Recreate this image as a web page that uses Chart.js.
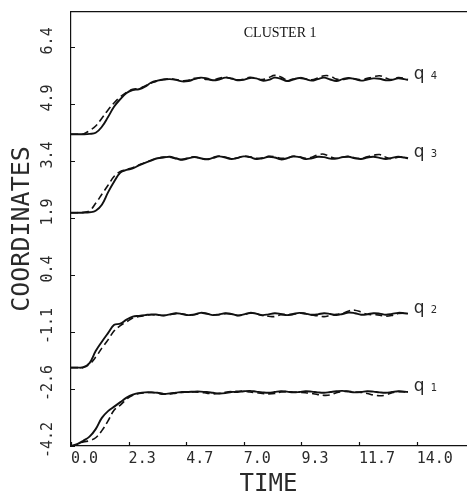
<!DOCTYPE html>
<html>
<head>
<meta charset="utf-8">
<script src="https://cdn.jsdelivr.net/npm/chart.js@4.4.0/dist/chart.umd.min.js"></script>
<style>
  html, body { margin: 0; padding: 0; background: #fff; }
  #wrap { width: 467px; height: 494px; }
</style>
</head>
<body>
<div id="wrap"><canvas id="myChart" width="467" height="494"></canvas></div>
<script>
// time samples (x values)
const times = [
  0, 0.25, 0.5, 0.75, 1, 1.25, 1.5, 1.75,
  2, 2.25, 2.5, 2.75, 3, 3.25, 3.5, 3.75,
  4, 4.25, 4.5, 4.75, 5, 5.25, 5.5, 5.75,
  6, 6.25, 6.5, 6.75, 7, 7.25, 7.5, 7.75,
  8, 8.25, 8.5, 8.75, 9, 9.25, 9.5, 9.75,
  10, 10.25, 10.5, 10.75, 11, 11.25, 11.5, 11.75,
  12, 12.25, 12.5, 12.75, 13, 13.25, 13.5, 13.65
];

const q4Solid = [
  4.11, 4.11, 4.11, 4.12, 4.15, 4.31, 4.57, 4.85,
  5.05, 5.21, 5.29, 5.31, 5.38, 5.49, 5.54, 5.57,
  5.58, 5.56, 5.52, 5.53, 5.58, 5.62, 5.60, 5.55,
  5.57, 5.62, 5.60, 5.55, 5.56, 5.61, 5.60, 5.54,
  5.56, 5.62, 5.59, 5.53, 5.57, 5.61, 5.58, 5.54,
  5.58, 5.62, 5.57, 5.53, 5.58, 5.61, 5.58, 5.54,
  5.57, 5.60, 5.59, 5.55, 5.56, 5.60, 5.58, 5.56
];
const q4Dashed = [
  4.11, 4.11, 4.12, 4.21, 4.33, 4.54, 4.76, 4.95,
  5.11, 5.23, 5.31, 5.33, 5.40, 5.48, 5.53, 5.57,
  5.59, 5.57, 5.54, 5.55, 5.60, 5.61, 5.57, 5.56,
  5.60, 5.63, 5.59, 5.56, 5.58, 5.63, 5.60, 5.57,
  5.62, 5.68, 5.64, 5.56, 5.58, 5.62, 5.59, 5.56,
  5.61, 5.67, 5.66, 5.58, 5.57, 5.60, 5.59, 5.56,
  5.60, 5.64, 5.67, 5.61, 5.57, 5.62, 5.60, 5.57
];
const q3Solid = [
  2.02, 2.02, 2.02, 2.03, 2.07, 2.23, 2.56, 2.85,
  3.09, 3.16, 3.20, 3.28, 3.35, 3.41, 3.47, 3.49,
  3.51, 3.47, 3.43, 3.47, 3.50, 3.47, 3.44, 3.48,
  3.52, 3.49, 3.45, 3.48, 3.52, 3.50, 3.45, 3.47,
  3.51, 3.49, 3.44, 3.47, 3.52, 3.50, 3.45, 3.47,
  3.51, 3.50, 3.46, 3.46, 3.50, 3.51, 3.47, 3.45,
  3.49, 3.51, 3.48, 3.45, 3.48, 3.51, 3.49, 3.47
];
const q3Dashed = [
  2.02, 2.02, 2.03, 2.07, 2.27, 2.51, 2.75, 2.99,
  3.12, 3.17, 3.22, 3.29, 3.36, 3.42, 3.47, 3.50,
  3.50, 3.46, 3.44, 3.48, 3.51, 3.47, 3.45, 3.49,
  3.53, 3.50, 3.46, 3.48, 3.53, 3.51, 3.47, 3.48,
  3.52, 3.51, 3.47, 3.48, 3.52, 3.51, 3.47, 3.50,
  3.56, 3.58, 3.51, 3.47, 3.50, 3.52, 3.48, 3.47,
  3.51, 3.55, 3.57, 3.50, 3.46, 3.50, 3.50, 3.47
];
const q2Solid = [
  -2.11, -2.11, -2.10, -1.99, -1.67, -1.42, -1.19, -0.97,
  -0.94, -0.83, -0.75, -0.73, -0.71, -0.69, -0.70, -0.72,
  -0.69, -0.66, -0.68, -0.71, -0.69, -0.65, -0.67, -0.71,
  -0.69, -0.66, -0.68, -0.72, -0.69, -0.65, -0.67, -0.71,
  -0.69, -0.66, -0.68, -0.71, -0.68, -0.65, -0.67, -0.70,
  -0.69, -0.66, -0.68, -0.71, -0.68, -0.64, -0.66, -0.70,
  -0.69, -0.66, -0.67, -0.70, -0.68, -0.65, -0.66, -0.67
];
const q2Dashed = [
  -2.11, -2.11, -2.11, -2.02, -1.83, -1.59, -1.37, -1.13,
  -0.99, -0.89, -0.79, -0.75, -0.72, -0.70, -0.71, -0.72,
  -0.70, -0.67, -0.68, -0.71, -0.70, -0.66, -0.67, -0.70,
  -0.70, -0.67, -0.68, -0.72, -0.70, -0.66, -0.68, -0.72,
  -0.74, -0.75, -0.70, -0.70, -0.69, -0.66, -0.67, -0.71,
  -0.73, -0.75, -0.72, -0.69, -0.66, -0.60, -0.58, -0.63,
  -0.69, -0.70, -0.71, -0.74, -0.72, -0.67, -0.66, -0.67
];
const q1Solid = [
  -4.20, -4.15, -4.06, -3.95, -3.75, -3.45, -3.27, -3.15,
  -3.03, -2.91, -2.83, -2.79, -2.77, -2.77, -2.78, -2.81,
  -2.80, -2.78, -2.76, -2.76, -2.75, -2.75, -2.76, -2.78,
  -2.80, -2.79, -2.76, -2.76, -2.74, -2.73, -2.75, -2.77,
  -2.78, -2.76, -2.74, -2.75, -2.77, -2.76, -2.74, -2.75,
  -2.77, -2.78, -2.76, -2.74, -2.73, -2.75, -2.77, -2.76,
  -2.74, -2.75, -2.77, -2.78, -2.76, -2.74, -2.75, -2.76
];
const q1Dashed = [
  -4.20, -4.16, -4.09, -4.06, -3.98, -3.79, -3.53, -3.24,
  -3.11, -2.95, -2.85, -2.80, -2.78, -2.77, -2.79, -2.82,
  -2.81, -2.79, -2.77, -2.76, -2.76, -2.77, -2.79, -2.81,
  -2.80, -2.77, -2.75, -2.74, -2.74, -2.76, -2.78, -2.80,
  -2.81, -2.80, -2.76, -2.75, -2.76, -2.77, -2.78, -2.80,
  -2.83, -2.85, -2.84, -2.78, -2.75, -2.74, -2.76, -2.77,
  -2.80, -2.84, -2.86, -2.84, -2.78, -2.75, -2.76, -2.77
];

const xTickValues = [0, 2.333, 4.667, 7, 9.333, 11.667, 14];
const xTickLabels = ['0.0', '2.3', '4.7', '7.0', '9.3', '11.7', '14.0'];
const yTickValues = [-4.2, -2.68, -1.16, 0.36, 1.88, 3.40, 4.92, 6.44];
const yTickLabels = ['-4.2', '-2.6', '-1.1', '0.4', '1.9', '3.4', '4.9', '6.4'];
const curveSymbol = 'q';
const curveIndex = ['1', '2', '3', '4'];
const panelTitle = 'CLUSTER 1';
const xTitle = 'TIME';
const yTitle = 'COORDINATES';

const ink = '#111';
const textInk = '#2a2a2a';
const solids = [q1Solid, q2Solid, q3Solid, q4Solid];
const dashes = [q1Dashed, q2Dashed, q3Dashed, q4Dashed];

function toPoints(values) {
  return times.map((t, i) => ({ x: t, y: values[i] }));
}

const datasets = [];
solids.forEach((s, i) => {
  datasets.push({ label: curveSymbol + curveIndex[i], data: toPoints(s), borderColor: ink, borderWidth: 1.9, pointRadius: 0, tension: 0.4 });
  datasets.push({ label: curveSymbol + curveIndex[i] + ' dashed', data: toPoints(dashes[i]), borderColor: ink, borderWidth: 1.6, borderDash: [7, 4], pointRadius: 0, tension: 0.4 });
});

// inner tick marks, rotated y labels and the text inside the plot
const plotText = {
  id: 'plotText',
  afterDraw(chart) {
    const ctx = chart.ctx;
    const xs = chart.scales.x;
    const ys = chart.scales.y;
    ctx.save();
    ctx.strokeStyle = ink;
    ctx.fillStyle = textInk;
    ctx.lineWidth = 1.2;
    ctx.beginPath();
    yTickValues.forEach(v => {
      const py = Math.round(ys.getPixelForValue(v)) + 0.5;
      ctx.moveTo(xs.left, py);
      ctx.lineTo(xs.left + 4, py);
    });
    xTickValues.forEach(v => {
      const px = Math.round(xs.getPixelForValue(v)) + 0.5;
      ctx.moveTo(px, ys.bottom);
      ctx.lineTo(px, ys.bottom - 4);
    });
    ctx.stroke();

    ctx.font = '15px "DejaVu Sans Mono"';
    ctx.textAlign = 'center';
    ctx.textBaseline = 'middle';
    yTickValues.forEach((v, i) => {
      ctx.save();
      ctx.translate(48, ys.getPixelForValue(v) - 6);
      ctx.rotate(-Math.PI / 2);
      ctx.fillText(yTickLabels[i], 0, 0);
      ctx.restore();
    });

    ctx.fillStyle = ink;
    ctx.font = '14px "Liberation Serif"';
    ctx.fillText(panelTitle, xs.getPixelForValue(8.47), ys.getPixelForValue(6.79));

    ctx.fillStyle = textInk;
    ctx.textAlign = 'left';
    ctx.textBaseline = 'alphabetic';
    solids.forEach((s, i) => {
      const px = xs.getPixelForValue(13.88);
      const py = ys.getPixelForValue(s[s.length - 1]) - 1;
      ctx.font = '17px "DejaVu Sans"';
      ctx.fillText(curveSymbol, px, py);
      ctx.font = '10px "DejaVu Sans"';
      ctx.fillText(curveIndex[i], px + 17, py);
    });
    ctx.restore();
  }
};

const ctx = document.getElementById('myChart').getContext('2d');
const myChart = new Chart(ctx, {
  type: 'line',
  data: { datasets: datasets },
  plugins: [plotText],
  options: {
    responsive: false,
    devicePixelRatio: 1,
    animation: false,
    layout: { padding: { left: 0, right: 1, top: 0, bottom: 0 } },
    plugins: { legend: { display: false }, tooltip: { enabled: false } },
    scales: {
      x: {
        type: 'linear', position: 'bottom', min: 0, max: 16,
        afterBuildTicks: s => { s.ticks = xTickValues.map(v => ({ value: v })); },
        afterFit: s => { s.height = 48; },
        grid: { display: false, drawTicks: false },
        border: { display: true, color: ink, width: 1.2 },
        ticks: {
          align: 'start', padding: 4, color: textInk, autoSkip: false, maxRotation: 0,
          font: { family: 'DejaVu Sans Mono', size: 15 },
          callback: (v, i) => xTickLabels[i]
        },
        title: {
          display: true, text: xTitle, color: textInk,
          font: { family: 'DejaVu Sans Mono', size: 24, lineHeight: 0.75 },
          padding: { top: 0, bottom: 0 }
        }
      },
      xTop: {
        type: 'linear', position: 'top', min: 0, max: 16,
        afterFit: s => { s.height = 12; },
        grid: { display: false, drawTicks: false },
        border: { display: true, color: ink, width: 1.2 },
        ticks: { display: false }
      },
      y: {
        type: 'linear', position: 'left', min: -4.2, max: 7.37,
        afterBuildTicks: s => { s.ticks = yTickValues.map(v => ({ value: v })); },
        afterFit: s => { s.width = 71; },
        grid: { display: false, drawTicks: false },
        border: { display: true, color: ink, width: 1.2 },
        ticks: { display: false },
        title: {
          display: true, text: yTitle, color: textInk,
          font: { family: 'DejaVu Sans Mono', size: 25 },
          padding: { top: 7, bottom: 0 }
        }
      }
    }
  }
});
</script>
</body>
</html>
